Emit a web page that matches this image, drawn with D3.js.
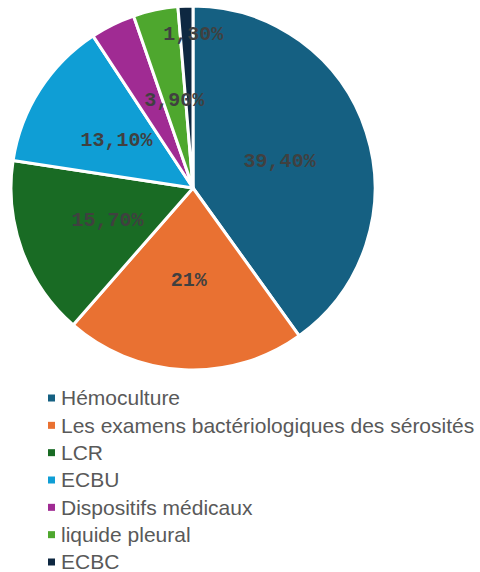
<!DOCTYPE html>
<html lang="fr">
<head>
<meta charset="utf-8">
<title>Répartition des prélèvements</title>
<script src="https://d3js.org/d3.v7.min.js"></script>
<style>
    body { margin: 0; background: #fff; }
    .lbl { font-family: "Liberation Mono", "DejaVu Sans Mono", monospace; font-weight: bold; font-size: 20px; fill: #404040; }
    .leg { font-family: "Liberation Sans", Arial, sans-serif; font-size: 21px; fill: #595959; }
</style>
</head>
<body>
<div id="chart"></div>
<script>
    // data
    var categories = ["Hémoculture", "Les examens bactériologiques des sérosités", "LCR", "ECBU",
        "Dispositifs médicaux", "liquide pleural", "ECBC"];
    var values = [39.4, 21, 15.7, 13.1, 3.9, 3.9, 1.3];
    // the label of "Dispositifs médicaux" is hidden in the original
    var labels = ["39,40%", "21%", "15,70%", "13,10%", "", "3,90%", "1,30%"];
    var colors = ["#156082", "#E97132", "#196B24", "#0F9ED5", "#A02B93", "#4EA72E", "#0E2841"];

    var WIDTH = 480, HEIGHT = 572;
    var CX = 193, CY = 188, R = 182;

    var svg = d3.select("#chart").append("svg")
        .attr("width", WIDTH)
        .attr("height", HEIGHT);

    var pie = d3.pie().sort(null).value(function (d) { return d; });
    var arcs = pie(values);
    var arc = d3.arc().innerRadius(0).outerRadius(R);

    var g = svg.append("g").attr("transform", "translate(" + CX + "," + CY + ")");

    g.selectAll("path")
        .data(arcs)
        .enter().append("path")
        .attr("d", arc)
        .attr("fill", function (d, i) { return colors[i]; })
        .attr("stroke", "#fff")
        .attr("stroke-width", 3)
        .attr("stroke-linejoin", "round");

    // excel "best fit" pushes the tiny ECBC label outward
    var labelShift = { 6: { a: 2.5, r: 155 } };

    g.selectAll("text.lbl")
        .data(arcs)
        .enter().append("text")
        .attr("class", "lbl")
        .attr("text-anchor", "middle")
        .attr("dy", "0.35em")
        .attr("transform", function (d, i) {
            var mid = (d.startAngle + d.endAngle) / 2, r = R / 2;
            if (labelShift[i]) {
                mid += labelShift[i].a * Math.PI / 180;
                r = labelShift[i].r;
            }
            return "translate(" + (Math.sin(mid) * r) + "," + (-Math.cos(mid) * r) + ")";
        })
        .text(function (d, i) { return labels[i]; });

    // legend
    var legY = d3.scalePoint().domain(categories).range([398, 562]);

    var leg = svg.selectAll("g.legItem")
        .data(categories)
        .enter().append("g")
        .attr("class", "legItem")
        .attr("transform", function (d) { return "translate(48," + legY(d) + ")"; });

    leg.append("rect")
        .attr("x", 0).attr("y", -3.5)
        .attr("width", 7).attr("height", 7)
        .attr("fill", function (d, i) { return colors[i]; });

    leg.append("text")
        .attr("class", "leg")
        .attr("x", 13)
        .attr("dy", "0.35em")
        .text(function (d) { return d; });
</script>
</body>
</html>
